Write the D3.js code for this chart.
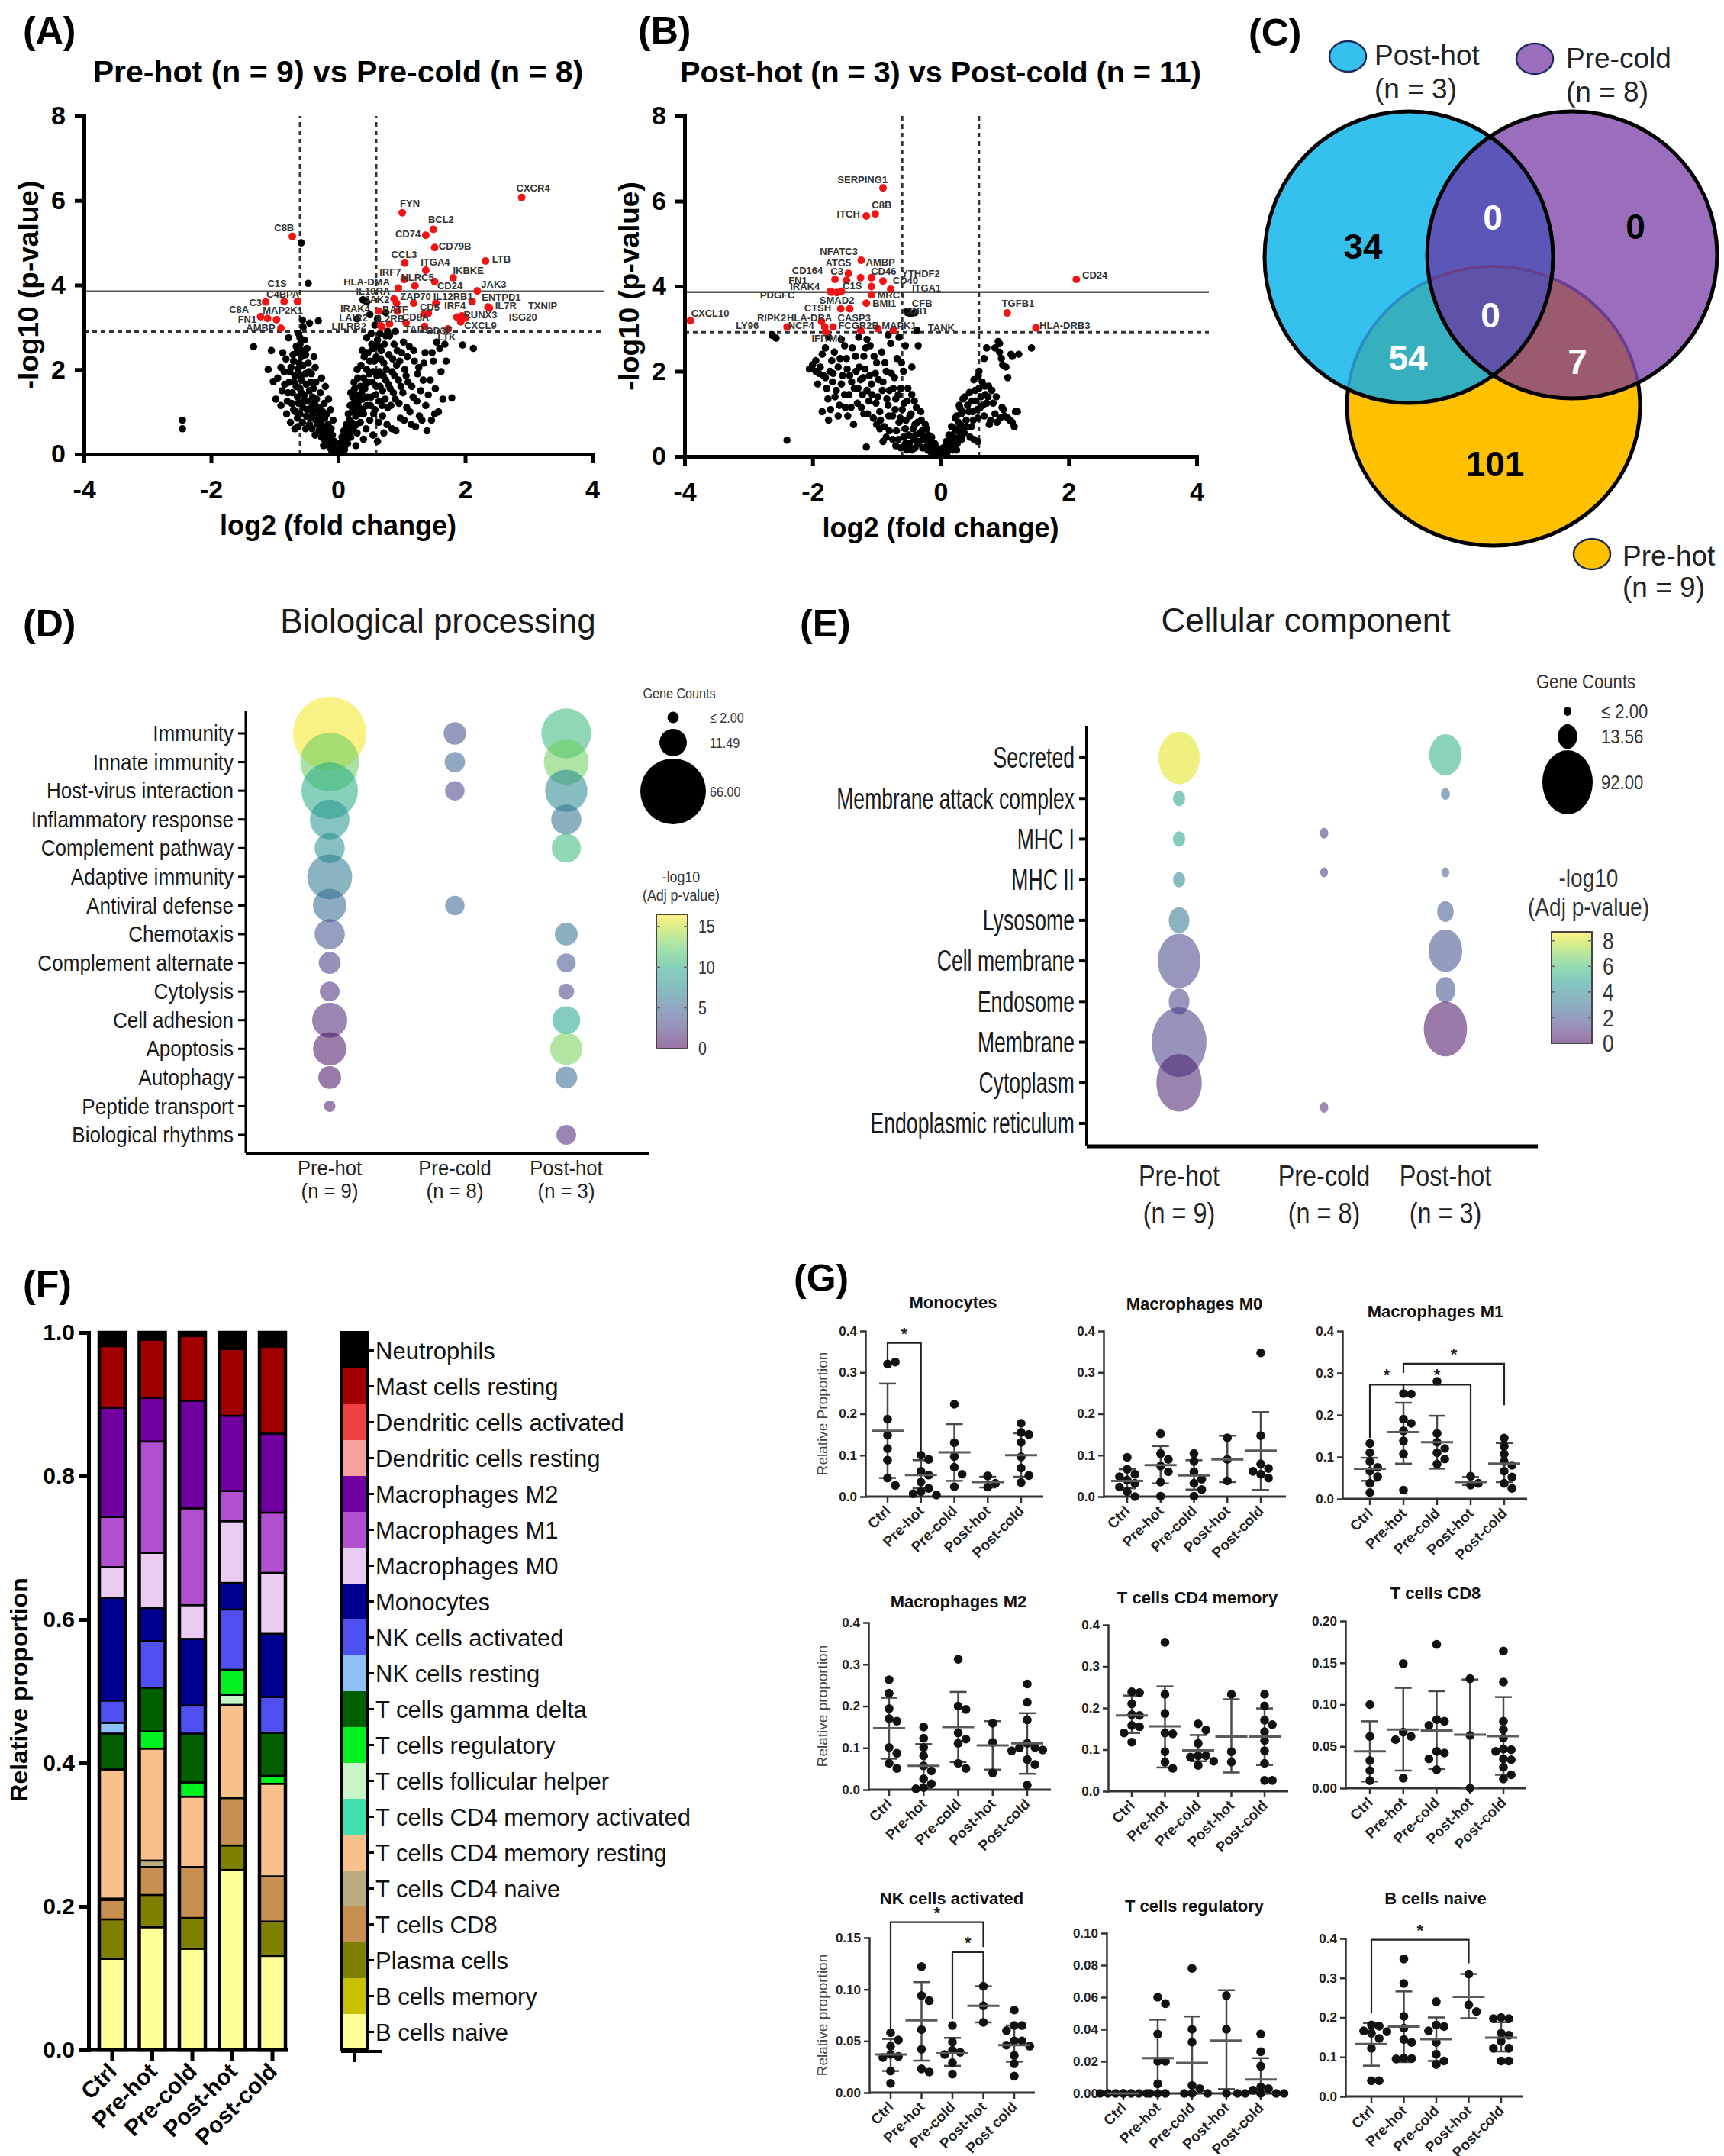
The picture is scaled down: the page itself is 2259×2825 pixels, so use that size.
<!DOCTYPE html>
<html><head><meta charset="utf-8">
<script src="https://cdn.jsdelivr.net/npm/d3@7/dist/d3.min.js"></script>
<style>body{margin:0;background:#fff}svg{display:block}</style>
</head><body>
<svg id="fig" width="2259" height="2825"></svg>
<script>
// ================= DATA =================
// Panel A: Pre-hot vs Pre-cold volcano (log2FC, -log10 p)
const volA_black = [[-0.02,0.05],[-0.05,0.12],[-0.08,0.2],[-0.1,0.08],[-0.12,0.3],[-0.15,0.22],[-0.17,0.4],[-0.2,0.5],[-0.22,0.35],[-0.25,0.62],[-0.27,0.75],[-0.3,0.55],[-0.3,0.9],[-0.33,1.05],[-0.35,0.8],[-0.37,1.2],[-0.4,0.95],[-0.4,1.35],[-0.42,1.1],[-0.45,1.5],[-0.45,0.7],[-0.48,1.25],[-0.5,1.65],[-0.5,0.9],[-0.52,1.9],[-0.53,1.4],[-0.55,2.1],[-0.55,1.1],[-0.57,1.75],[-0.58,2.3],[-0.6,1.55],[-0.6,2.6],[-0.62,1.2],[-0.63,2.0],[-0.64,0.85],[-0.65,2.4],[-0.66,1.6],[-0.68,1.85],[-0.7,1.05],[-0.7,2.2],[-0.72,1.45],[-0.74,2.05],[-0.75,0.75],[-0.77,1.7],[-0.78,2.75],[-0.8,1.25],[-0.82,2.25],[-0.85,1.95],[-0.88,1.5],[-0.9,2.05],[-0.95,1.8],[-0.98,1.3],[-1.02,1.72],[-1.05,2.45],[-1.1,2.0],[-0.22,1.2],[-0.18,0.95],[-0.28,1.45],[-0.35,1.7],[-0.42,1.9],[-0.47,2.15],[-0.38,2.3],[-0.31,3.15],[-0.56,3.17],[-0.55,3.0],[-0.58,5.0],[-0.47,4.04],[-1.33,2.54],[-2.45,0.8],[-2.45,0.6],[-0.9,1.15],[-0.6,0.95],[-0.51,0.6],[-0.68,0.6],[-0.45,3.1],[-0.62,2.85],
[-0.06,0.3],[-0.09,0.45],[-0.11,0.6],[-0.13,0.15],[-0.14,0.5],[-0.16,0.7],[-0.19,0.6],[-0.21,0.85],[-0.23,0.2],[-0.24,1.0],[-0.26,0.4],[-0.29,1.1],[-0.32,0.7],[-0.34,1.3],[-0.36,0.45],[-0.39,1.55],[-0.41,0.6],[-0.43,1.7],[-0.44,0.85],[-0.46,1.95],[-0.49,1.05],[-0.51,2.35],[-0.54,1.25],[-0.56,0.75],[-0.58,1.45],[-0.59,1.85],[-0.61,2.15],[-0.63,0.65],[-0.64,1.35],[-0.66,2.55],[-0.67,1.0],[-0.69,1.7],[-0.71,2.35],[-0.73,1.2],[-0.76,1.95],[-0.79,1.45],[-0.81,0.95],[-0.84,1.65],[-0.87,2.4],[-0.6,2.75],[-0.57,2.45],[-0.53,2.7],[-0.49,2.5],[-0.36,2.05],[-0.26,1.8],[-0.2,1.6],[-0.15,1.3],[-0.12,1.05],[-0.08,0.8],
[0.02,0.05],[0.05,0.15],[0.08,0.3],[0.1,0.1],[0.12,0.45],[0.15,0.25],[0.15,0.6],[0.18,0.8],[0.2,0.4],[0.22,1.0],[0.25,0.65],[0.25,1.2],[0.28,0.9],[0.3,1.4],[0.3,0.5],[0.33,1.1],[0.35,1.6],[0.35,0.75],[0.38,1.3],[0.4,1.8],[0.4,0.95],[0.42,1.55],[0.45,2.0],[0.45,1.15],[0.48,1.7],[0.5,2.2],[0.5,0.8],[0.52,1.35],[0.55,1.95],[0.55,2.5],[0.58,1.05],[0.6,1.6],[0.6,2.3],[0.62,2.7],[0.65,1.25],[0.65,1.95],[0.68,2.45],[0.7,0.9],[0.7,1.5],[0.72,2.15],[0.75,1.75],[0.75,2.8],[0.78,1.1],[0.8,2.35],[0.82,1.55],[0.85,1.95],[0.85,0.6],[0.88,2.6],[0.9,1.3],[0.92,2.1],[0.95,1.75],[0.98,0.85],[1.0,2.4],[1.02,1.45],[1.05,2.0],[1.08,1.1],[1.1,1.7],[1.12,2.55],[1.15,0.7],[1.18,1.35],[1.2,2.2],[1.25,1.9],[1.28,0.9],[1.3,1.5],[1.35,2.15],[1.38,1.15],[1.4,0.55],[1.45,1.75],[1.5,2.2],[1.52,0.95],[1.55,2.65],[1.6,2.5],[1.65,1.3],[1.79,1.33],[1.96,2.58],[2.13,2.5],[1.7,2.2],[0.3,2.0],[0.25,1.7],[0.2,1.45],[0.38,2.45],[0.45,2.75],[0.52,2.85],[0.28,0.2],[0.4,0.35],[0.55,0.45],[0.62,0.3],[0.72,0.5],[0.39,3.65],[0.3,3.2],[0.5,3.3],[0.45,3.6],[0.62,3.2],[0.75,3.35],
[0.03,0.25],[0.06,0.4],[0.09,0.55],[0.11,0.2],[0.13,0.7],[0.14,0.35],[0.16,0.95],[0.17,0.5],[0.19,1.15],[0.21,0.75],[0.23,1.35],[0.24,0.55],[0.26,1.55],[0.27,1.05],[0.29,0.7],[0.31,1.8],[0.32,1.25],[0.34,0.95],[0.36,2.1],[0.37,1.45],[0.39,1.05],[0.41,2.3],[0.43,1.65],[0.44,0.6],[0.46,1.35],[0.47,2.4],[0.49,1.9],[0.51,1.15],[0.53,2.6],[0.54,1.7],[0.56,0.95],[0.57,2.2],[0.59,1.4],[0.61,1.85],[0.63,2.55],[0.64,0.75],[0.66,1.6],[0.67,2.25],[0.69,1.15],[0.71,1.85],[0.73,2.6],[0.74,1.3],[0.76,2.0],[0.77,0.7],[0.79,1.65],[0.81,2.8],[0.83,1.15],[0.86,2.25],[0.87,1.45],[0.89,1.85],[0.91,0.55],[0.93,2.45],[0.96,1.2],[0.97,2.2],[0.99,1.6],[1.03,2.65],[1.04,0.8],[1.07,1.85],[1.09,2.3],[1.13,1.0],[1.16,1.6],[1.19,2.45],[1.22,0.65],[1.24,1.25],[1.27,2.05],[1.32,0.8],[1.34,1.75],[1.37,2.4],[1.42,1.4],[1.47,0.8],[1.48,2.4],[1.53,1.55],[1.58,1.0],[1.62,1.95],[1.68,2.6],[0.78,2.9],[0.66,2.85],[0.58,3.05],[0.9,2.9]];
// significant genes: gene, log2FC, -log10p, label x, label y (data units), colour flag
const volA_genes = [
 ["CXCR4",2.89,6.07,3.07,6.29,"r"],["FYN",1.01,5.71,1.13,5.93,"r"],["BCL2",1.50,5.32,1.62,5.56,"r"],["CD74",1.38,5.18,1.10,5.21,"r"],
 ["CD79B",1.52,4.89,1.84,4.92,"r"],["LTB",2.32,4.57,2.57,4.61,"r"],["CCL3",1.05,4.52,1.04,4.73,"r"],["ITGA4",1.38,4.35,1.53,4.54,"r"],
 ["IKBKE",1.81,4.17,2.05,4.35,"r"],["IRF7",1.04,4.13,0.82,4.30,"r"],["NLRC5",1.21,3.98,1.25,4.18,"r"],["HLA-DMA",0.95,3.93,0.45,4.08,"r"],
 ["CD24",1.52,4.08,1.76,3.98,"r"],["JAK3",2.19,3.86,2.45,4.02,"r"],["IL10RA",0.88,3.67,0.55,3.85,"r"],["ZAP70",1.19,3.57,1.22,3.73,"r"],
 ["IL12RB1",1.54,3.57,1.81,3.73,"r"],["ENTPD1",2.11,3.61,2.57,3.71,"r"],["JAK2",0.92,3.57,0.61,3.65,"r"],["IL7R",2.36,3.48,2.64,3.52,"r"],
 ["TXNIP",2.38,3.46,3.22,3.52,"r"],["CD5",1.42,3.33,1.44,3.47,"r"],["IRF4",1.87,3.24,1.84,3.52,"r"],["RUNX3",1.95,3.27,2.24,3.30,"r"],
 ["ISG20",2.0,3.22,2.91,3.25,"r"],["CXCL9",1.93,3.13,2.24,3.04,"r"],["LTK",1.73,2.96,1.71,2.77,"r"],["CD3E",1.36,3.02,1.59,2.92,"r"],
 ["TAP1",1.07,3.10,1.24,2.96,"r"],["CD8A",1.35,3.31,1.22,3.25,"r"],["IL2RB",0.81,3.08,0.82,3.21,"r"],["BATF",0.93,3.38,0.90,3.42,"r"],
 ["IRAK4",0.64,3.38,0.27,3.44,"r"],["LAIR2",0.67,3.04,0.24,3.23,"r"],["LILRB2",0.69,3.0,0.17,3.02,"r"],
 ["C8B",-0.72,5.15,-0.85,5.35,"r"],["C1S",-0.64,3.61,-0.96,4.04,"r"],["C4BPA",-0.85,3.61,-0.87,3.79,"r"],["C3",-1.14,3.60,-1.30,3.58,"r"],
 ["C8A",-1.22,3.25,-1.56,3.42,"r"],["MAP2K1",-0.97,3.18,-0.87,3.40,"r"],["FN1",-1.11,3.21,-1.43,3.19,"r"],["AMBP",-0.90,2.98,-1.22,2.98,"r"]];

// Panel B: Post-hot vs Post-cold volcano
const volB_black = [[-2.63,2.85],[-2.57,2.78],[-2.4,0.38],[-1.16,0.22],[-2.0,2.15],[-1.95,2.0],[-1.9,1.95],[-1.85,2.4],[-1.8,1.85],[-1.78,1.6],[-1.75,0.85],[-1.72,1.1],[-1.7,2.25],[-1.68,1.95],[-1.65,1.4],[-1.6,2.1],[-1.58,1.2],[-1.55,1.7],[-1.5,2.6],[-1.5,1.45],[-1.47,2.3],[-1.45,0.95],[-1.42,1.9],[-1.4,1.15],[-1.38,2.55],[-1.35,1.6],[-1.32,2.0],[-1.3,1.25],[-1.28,2.8],[-1.25,1.8],[-1.22,1.45],[-1.2,2.35],[-1.2,1.0],[-1.18,2.05],[-1.15,1.55],[-1.12,1.3],[-1.1,2.6],[-1.08,1.7],[-1.05,0.9],[-1.02,1.95],[-1.0,2.2],[-0.98,1.4],[-0.95,1.05],[-0.92,2.45],[-0.9,1.75],[-0.88,0.7],[-0.85,2.0],[-0.82,1.2],[-0.8,1.55],[-0.78,2.65],[-0.75,0.95],[-0.72,1.85],[-0.7,1.35],[-0.68,2.3],[-0.65,0.8],[-0.62,1.6],[-0.6,1.1],[-0.58,2.0],[-0.55,0.65],[-0.52,1.3],[-0.5,0.5],[-0.48,0.95],[-0.45,1.45],[-0.42,0.4],[-0.4,0.75],[-0.38,1.15],[-0.35,0.3],[-0.32,0.55],[-0.3,0.85],[-0.28,0.2],[-0.25,0.45],[-0.22,0.65],[-0.2,0.15],[-0.18,0.35],[-0.15,0.1],[-0.12,0.25],[-0.1,0.05],[-0.07,0.15],[-0.05,0.08],[-0.03,0.02],[-0.35,2.6],[-0.45,2.1],[-0.55,2.6],[-0.65,2.8],[-0.82,2.85],[-0.37,2.96],[-0.47,3.35],[-0.52,3.38],[-0.55,0.3],[-0.75,0.4],[-0.62,0.2],[-0.45,0.15],[-0.9,0.35],
[-1.95,2.25],[-1.92,1.7],[-1.88,2.1],[-1.83,1.9],[-1.8,2.55],[-1.76,1.35],[-1.73,2.0],[-1.69,1.75],[-1.66,2.45],[-1.63,1.55],[-1.6,0.95],[-1.57,2.3],[-1.53,1.9],[-1.49,1.15],[-1.46,2.05],[-1.43,1.45],[-1.39,1.75],[-1.36,0.75],[-1.33,2.35],[-1.29,1.6],[-1.27,2.1],[-1.24,1.15],[-1.21,1.85],[-1.17,2.55],[-1.14,1.0],[-1.11,1.9],[-1.07,1.45],[-1.04,2.35],[-1.01,1.25],[-0.97,1.8],[-0.94,0.85],[-0.91,1.55],[-0.87,2.2],[-0.84,1.35],[-0.81,0.95],[-0.77,1.95],[-0.74,1.6],[-0.71,1.1],[-0.69,0.6],[-0.66,1.45],[-0.63,0.9],[-0.61,2.2],[-0.57,1.25],[-0.54,0.85],[-0.51,1.6],[-0.49,0.3],[-0.46,1.0],[-0.43,0.65],[-0.41,1.3],[-0.39,0.5],[-0.36,0.8],[-0.33,0.35],[-0.31,1.05],[-0.29,0.6],[-0.27,0.4],[-0.24,0.75],[-0.21,0.25],[-0.19,0.5],[-0.17,0.3],[-0.14,0.45],[-0.11,0.15],[-0.09,0.3],[-0.06,0.2],[-0.04,0.1],[-0.58,0.45],[-0.7,0.25],[-0.8,0.6],[-0.95,0.65],[-1.0,0.75],[-0.85,0.45],[-0.66,0.4],[-0.53,0.15],[-0.4,0.2],[-2.05,2.05],[-1.75,2.8],[-1.55,2.75],[-1.15,2.75],[-1.85,1.05],
[0.02,0.05],[0.05,0.12],[0.08,0.25],[0.1,0.08],[0.12,0.35],[0.15,0.2],[0.18,0.5],[0.2,0.3],[0.22,0.65],[0.25,0.15],[0.28,0.8],[0.3,0.45],[0.32,1.0],[0.35,0.6],[0.35,1.35],[0.4,0.85],[0.42,1.2],[0.45,1.5],[0.48,0.7],[0.5,1.05],[0.52,1.8],[0.55,1.3],[0.58,0.9],[0.6,1.6],[0.6,2.0],[0.62,1.15],[0.65,1.75],[0.68,0.95],[0.7,1.45],[0.72,1.25],[0.75,1.65],[0.78,0.85],[0.8,1.55],[0.85,1.0],[0.88,0.8],[0.9,2.7],[0.92,2.65],[0.95,2.3],[0.98,1.1],[1.0,0.95],[1.02,2.1],[1.05,1.85],[1.08,0.85],[1.1,2.4],[1.12,2.35],[1.15,0.7],[1.2,1.05],[1.22,2.4],[1.42,2.55],[0.72,2.55],[0.68,2.3],[0.85,2.55],[0.3,1.15],[0.25,0.95],[0.52,0.4],
[0.04,0.2],[0.07,0.1],[0.09,0.35],[0.11,0.2],[0.13,0.5],[0.16,0.35],[0.17,0.7],[0.19,0.15],[0.21,0.45],[0.23,0.9],[0.26,0.3],[0.27,0.6],[0.29,1.2],[0.31,0.75],[0.33,0.4],[0.34,1.05],[0.37,0.55],[0.38,1.4],[0.41,0.7],[0.44,1.05],[0.46,0.45],[0.49,1.3],[0.51,0.85],[0.54,1.55],[0.57,1.1],[0.59,1.9],[0.63,1.4],[0.66,1.2],[0.69,1.65],[0.74,1.4],[0.76,0.75],[0.82,1.25],[0.87,1.4],[0.93,0.9],[0.97,2.15],[1.05,0.9],[1.12,0.8],[1.17,1.05],[0.96,1.15],[0.92,2.45],[0.58,0.35]];
const volB_genes = [
 ["SERPING1",-0.90,6.31,-1.22,6.51,"r"],["C8B",-1.02,5.70,-0.92,5.91,"r"],["ITCH",-1.16,5.65,-1.44,5.69,"r"],["NFATC3",-1.24,4.61,-1.59,4.82,"r"],
 ["AMBP",-1.25,4.20,-0.94,4.57,"r"],["ATG5",-1.44,4.30,-1.60,4.55,"r"],["CD164",-1.65,4.16,-2.08,4.36,"r"],["C3",-1.47,4.14,-1.62,4.35,"r"],
 ["CD46",-1.08,4.20,-0.89,4.35,"r"],["YTHDF2",-0.90,4.12,-0.31,4.30,"r"],["CD40",-0.78,3.93,-0.55,4.14,"r"],["FN1",-1.72,3.88,-2.23,4.14,"r"],
 ["C1S",-1.55,3.88,-1.38,4.01,"r"],["IRAK4",-1.70,3.86,-2.12,3.99,"r"],["ITGA1",-1.08,3.99,-0.22,3.95,"r"],["PDGFC",-1.62,3.85,-2.55,3.80,"r"],
 ["MRC1",-1.08,3.80,-0.77,3.79,"r"],["BMI1",-1.16,3.60,-0.88,3.60,"r"],["SMAD2",-1.56,3.47,-1.62,3.66,"r"],["CTSH",-1.42,3.47,-1.92,3.48,"r"],
 ["CFB",-0.52,3.41,-0.29,3.60,"k"],["CD81",-0.40,3.38,-0.40,3.41,"k"],["CXCL10",-3.91,3.19,-3.60,3.37,"r"],["HLA-DRA",-1.86,3.17,-2.05,3.26,"r"],
 ["CASP3",-1.68,3.04,-1.35,3.26,"r"],["RIPK2",-2.40,3.04,-2.64,3.25,"r"],["LY96",-2.63,2.85,-3.02,3.08,"k"],["NCF4",-1.81,3.04,-2.18,3.07,"r"],
 ["FCGR2B",-1.25,2.96,-1.28,3.07,"r"],["MAPK1",-0.98,3.00,-0.65,3.07,"r"],["TANK",-0.74,2.96,0.01,3.02,"r"],["IFITM1",-1.79,2.92,-1.77,2.78,"r"],
 ["CD24",2.12,4.16,2.41,4.26,"r"],["TGFB1",1.04,3.37,1.21,3.60,"r"],["HLA-DRB3",1.49,3.02,1.94,3.07,"r"]];

// Panel C: Venn counts
const vennSets = ["Post-hot","Pre-cold","Pre-hot"];
const vennN = [3, 8, 9];
const vennColors = ["#35C0EE", "#9B6DBD", "#FFC000"];
const vennRegions = ["PostHot", "PreCold", "PreHot", "PostHot&PreCold", "PostHot&PreHot", "PreCold&PreHot", "All"];
const vennCounts = [34, 0, 101, 0, 54, 7, 0];

// Panel D: GO biological processing bubbles
const dTerms = ["Immunity","Innate immunity","Host-virus interaction","Inflammatory response","Complement pathway","Adaptive immunity","Antiviral defense","Chemotaxis","Complement alternate","Cytolysis","Cell adhesion ","Apoptosis","Autophagy","Peptide transport","Biological rhythms"];
const dGroups = ["Pre-hot","Pre-cold","Post-hot"];
const dGroupN = ["(n = 9)","(n = 8)","(n = 3)"];
// [term index, group index, gene count, -log10 adj p]
const dBubbles = [
 [0,0,82,16.3],[1,0,53,12.5],[2,0,49,10],[3,0,24,8.5],[4,0,14,8],[5,0,31,6.5],[6,0,17,5.5],[7,0,14,4],[8,0,7.4,2.5],[9,0,6,2],[10,0,19,1.5],[11,0,17,0.8],[12,0,8,0.5],[13,0,2,1],
 [0,1,7.7,3.5],[1,1,6.4,5],[2,1,5.8,3],[6,1,5.8,5],
 [0,2,38,11],[1,2,31,12.8],[2,2,27.5,7.5],[3,2,14,6],[4,2,13,11],[7,2,8,6],[8,2,5.5,4],[9,2,3.9,3],[10,2,12,9.5],[11,2,16,13],[12,2,7.4,5.5],[14,2,6,1.5]];
const dSizeLegend = [2.00, 11.49, 66.00];
const dColorTicks = [0,5,10,15];

// Panel E: GO cellular component bubbles
const eTerms = ["Secreted","Membrane attack complex","MHC I","MHC II","Lysosome","Cell membrane","Endosome","Membrane","Cytoplasm","Endoplasmic reticulum"];
const eBubbles = [
 [0,0,62,8.3],[1,0,5.4,5],[2,0,5.4,5],[3,0,5.4,4],[4,0,15.5,3.2],[5,0,66,1.6],[6,0,15.5,1.6],[7,0,109,1.5],[8,0,75,0.7],
 [2,1,2.6,1.2],[3,1,2.2,1.2],[9,1,2.6,1.0],
 [0,2,38,5.5],[1,2,3,2.8],[3,2,2.2,2.3],[4,2,9.8,2.3],[5,2,41,2.0],[6,2,14.6,2.0],[7,2,68,0.3]];
const eSizeLegend = [2.00, 13.56, 92.00];
const eColorTicks = [0,2,4,6,8];

// Panel F: immune cell relative proportions (bottom -> top)
const fGroups = ["Ctrl","Pre-hot","Pre-cold","Post-hot","Post-cold"];
const fCellTypes = ["B cells naive","B cells memory","Plasma cells","T cells CD8","T cells CD4 naive","T cells CD4 memory resting","T cells CD4 memory activated","T cells follicular helper","T cells regulatory","T cells gamma delta","NK cells resting","NK cells activated","Monocytes","Macrophages M0","Macrophages M1","Macrophages M2","Dendritic cells resting","Dendritic cells activated","Mast cells resting","Neutrophils"];
const fColors = ["#FFFF99","#C8C000","#808000","#C89050","#B8AC80","#F8C08A","#40E0B0","#C8F5C8","#00F020","#006000","#90C0F8","#5050F0","#000090","#EACCF2","#B050D0","#7000A0","#F8A0A0","#F04040","#A00000","#000000"];
const fProps = [
 [0.127,0,0.055,0.027,0.002,0.180,0,0,0,0.050,0.015,0.031,0.143,0.043,0.070,0.152,0,0,0.086,0.019],
 [0.171,0,0.045,0.039,0.009,0.156,0,0,0.024,0.061,0,0.065,0.046,0.077,0.155,0.061,0,0,0.081,0.010],
 [0.141,0,0.043,0.071,0,0.098,0,0,0.020,0.068,0,0.039,0.093,0.047,0.135,0.150,0,0,0.090,0.005],
 [0.251,0,0.034,0.066,0,0.130,0,0.014,0.035,0,0,0.084,0.037,0.086,0.042,0.105,0,0,0.093,0.023],
 [0.131,0,0.048,0.063,0,0.129,0,0,0.011,0.060,0,0.050,0.088,0.085,0.084,0.110,0,0,0.121,0.020]];

// Panel G: per-sample relative proportions, mean, SD (lo,hi), significance [from,to,y,leftLeg,rightLeg]
const gGroups = ["Ctrl","Pre-hot","Pre-cold","Post-hot","Post-cold"];
const gMonoPts = [[0.32,0.325,0.187,0.148,0.116,0.088,0.045,0.027],[0.10,0.09,0.061,0.052,0.035,0.02,0.012,0.007,0.004],[0.223,0.13,0.097,0.071,0.054,0.024],[0.05,0.032,0.023],[0.177,0.155,0.15,0.131,0.096,0.069,0.051,0.034]];
const gMonoMean = [0.159,0.052,0.107,0.035,0.10];
const gMonoSD = [[0.045,0.273],[0.02,0.088],[0.038,0.175],[0.022,0.048],[0.048,0.153]];
const gMonoSig = [["Ctrl","Pre-hot",0.371,0.33,0.11]];
const gM0Pts = [[0.095,0.066,0.054,0.048,0.04,0.032,0.023,0.012,0.0],[0.152,0.104,0.09,0.074,0.06,0.035,0.001],[0.104,0.085,0.06,0.042,0.032,0.017,0.001],[0.142,0.09,0.038],[0.347,0.147,0.079,0.068,0.061,0.054,0.045]];
const gM0Mean = [0.038,0.076,0.051,0.09,0.111];
const gM0SD = [[0.02,0.066],[0.032,0.122],[0.017,0.088],[0.035,0.147],[0.016,0.204]];
const gM1Pts = [[0.132,0.11,0.089,0.075,0.066,0.053,0.037,0.015],[0.251,0.25,0.19,0.18,0.162,0.138,0.107,0.021],[0.28,0.156,0.135,0.12,0.11,0.095,0.083],[0.054,0.037,0.033],[0.145,0.125,0.107,0.089,0.08,0.066,0.052,0.037,0.025]];
const gM1Mean = [0.072,0.159,0.135,0.04,0.084];
const gM1SD = [[0.043,0.098],[0.084,0.229],[0.072,0.198],[0.033,0.052],[0.04,0.133]];
const gM1Sig = [["Ctrl","Pre-hot",0.272,0.145,0.258],["Pre-hot","Post-hot",0.272,0.258,0.058],["Pre-hot","Post-cold",0.322,0.30,0.223]];
const gM2Pts = [[0.263,0.231,0.194,0.17,0.164,0.101,0.087,0.063,0.051],[0.15,0.123,0.101,0.081,0.057,0.045,0.026,0.014,0.005,0.002],[0.312,0.2,0.192,0.136,0.121,0.111,0.063,0.051],[0.159,0.113,0.04],[0.253,0.209,0.167,0.111,0.101,0.1,0.095,0.093,0.072,0.06,0.011]];
const gM2Mean = [0.147,0.057,0.15,0.106,0.111];
const gM2SD = [[0.074,0.22],[0.003,0.109],[0.066,0.234],[0.048,0.164],[0.038,0.183]];
const gCD4Pts = [[0.239,0.237,0.21,0.184,0.182,0.158,0.155,0.14,0.118],[0.358,0.233,0.187,0.14,0.138,0.095,0.07,0.055],[0.162,0.147,0.115,0.085,0.085,0.082,0.072,0.062],[0.233,0.095,0.07],[0.233,0.205,0.171,0.16,0.143,0.122,0.097,0.067,0.026,0.026]];
const gCD4Mean = [0.182,0.156,0.098,0.131,0.131];
const gCD4SD = [[0.14,0.23],[0.057,0.252],[0.072,0.135],[0.045,0.221],[0.063,0.199]];
const gCD8Pts = [[0.1,0.062,0.033,0.021,0.009],[0.149,0.067,0.062,0.058,0.012],[0.172,0.082,0.08,0.075,0.044,0.042,0.035,0.022],[0.131,0.063,0.0],[0.164,0.127,0.08,0.07,0.06,0.047,0.046,0.044,0.035,0.034,0.025,0.016,0.011]];
const gCD8Mean = [0.044,0.07,0.069,0.064,0.062];
const gCD8SD = [[0.008,0.08],[0.021,0.12],[0.023,0.116],[0.0,0.13],[0.016,0.109]];
const gNKPts = [[0.058,0.051,0.045,0.037,0.035,0.034,0.021,0.009],[0.122,0.094,0.089,0.061,0.042,0.023,0.02],[0.065,0.049,0.041,0.039,0.037,0.029,0.018],[0.103,0.084,0.068],[0.08,0.065,0.065,0.06,0.05,0.05,0.046,0.045,0.036,0.028,0.016]];
const gNKMean = [0.037,0.07,0.038,0.084,0.046];
const gNKSD = [[0.021,0.052],[0.031,0.107],[0.026,0.053],[0.068,0.103],[0.03,0.065]];
const gNKSig = [["Ctrl","Post-hot",0.165,0.062,0.141],["Pre-cold","Post-hot",0.136,0.071,0.107]];
const gTregPts = [[0,0,0,0,0,0,0,0],[0.06,0.056,0.037,0.02,0.02,0.006,0,0,0],[0.078,0.04,0.032,0.005,0.003,0,0,0],[0.061,0.04,0],[0.037,0.026,0.017,0.004,0.003,0.002,0,0,0,0,0]];
const gTregMean = [0,0.022,0.019,0.033,0.0087];
const gTregSD = [[0,0],[0,0.046],[0,0.048],[0.0027,0.0644],[0,0.022]];
const gBPts = [[0.181,0.178,0.166,0.164,0.16,0.147,0.122,0.04,0.04],[0.348,0.286,0.203,0.173,0.144,0.137,0.097,0.096,0.095],[0.24,0.181,0.177,0.166,0.137,0.107,0.09,0.081],[0.31,0.232,0.215],[0.2,0.197,0.197,0.16,0.155,0.14,0.122,0.122,0.09,0.09]];
const gBMean = [0.133,0.177,0.145,0.252,0.149];
const gBSD = [[0.078,0.186],[0.087,0.266],[0.09,0.2],[0.198,0.31],[0.114,0.188]];
const gBSig = [["Ctrl","Post-hot",0.397,0.21,0.337]];

// ================= DRAWING =================
const svg = d3.select("#fig");
svg.append("rect").attr("width",2259).attr("height",2825).attr("fill","#fff");
svg.append("defs");
const FONT = "'Liberation Sans', Arial, Helvetica, sans-serif";
function T(p, x, y, s, o = {}) {
  let tr = `translate(${x},${y})`;
  if (o.rot) tr += ` rotate(${o.rot})`;
  if (o.sx) tr += ` scale(${o.sx},1)`;
  const t = p.append("text").attr("transform", tr)
    .attr("text-anchor", o.anchor || "start")
    .attr("font-family", FONT).attr("font-size", o.size || 20)
    .attr("font-weight", o.bold ? "bold" : "normal")
    .attr("fill", o.fill || "#000").text(s);
  if (o.mid) t.attr("dominant-baseline", "central");
  return t;
}
function styleAxis(g, o) {
  g.attr("font-family", FONT);
  g.select(".domain").attr("stroke", o.color || "#000").attr("stroke-width", o.lw).attr("stroke-linecap","square");
  g.selectAll(".tick line").attr("stroke", o.color || "#000").attr("stroke-width", o.tw || o.lw);
  g.selectAll(".tick text").attr("font-size", o.size).attr("font-weight", o.bold ? "bold" : "normal").attr("fill", o.tcolor || "#000");
}

// ---------- Panel labels ----------
[["(A)",30,57],["(B)",836,57],["(C)",1636,60],["(D)",30,834],["(E)",1048,834],["(F)",30,1700],["(G)",1040,1692]]
  .forEach(([s,x,y]) => T(svg, x, y, s, {size:50, bold:true}));

// ---------- Volcano ----------
function volcano(c) {
  const g = svg.append("g");
  const x = d3.scaleLinear().domain([-4,4]).range([c.x0, c.x1]);
  const y = d3.scaleLinear().domain([0,8]).range([c.y0, c.y1]);
  g.append("line").attr("x1",x(-4)).attr("x2",x(4)+16).attr("y1",y(c.hSolid)).attr("y2",y(c.hSolid)).attr("stroke","#555").attr("stroke-width",2.5);
  g.append("line").attr("x1",x(-4)).attr("x2",x(4)+16).attr("y1",y(c.hDot)).attr("y2",y(c.hDot)).attr("stroke","#333").attr("stroke-width",3).attr("stroke-dasharray","6,5");
  [-0.6,0.6].forEach(v => g.append("line").attr("x1",x(v)).attr("x2",x(v)).attr("y1",y(0)).attr("y2",y(8)).attr("stroke","#333").attr("stroke-width",3).attr("stroke-dasharray","6,5"));
  g.selectAll("circle.k").data(c.black).join("circle").attr("cx",d=>x(d[0])).attr("cy",d=>y(d[1])).attr("r",4.8).attr("fill","#000");
  g.selectAll("circle.s").data(c.genes).join("circle").attr("cx",d=>x(d[1])).attr("cy",d=>y(d[2])).attr("r",5).attr("fill",d=>d[5]==="r"?"#F21414":"#000");
  c.genes.forEach(d => T(g, x(d[3]), y(d[4]), d[0], {size:13, bold:true, anchor:"middle", fill:"#333", mid:true}));
  const ax = g.append("g").attr("transform",`translate(0,${c.y0})`)
    .call(d3.axisBottom(x).tickValues([-4,-2,0,2,4]).tickFormat(d=>String(d)).tickSize(12).tickSizeOuter(0).tickPadding(22));
  styleAxis(ax, {lw:5, size:34, bold:true});
  const ay = g.append("g").attr("transform",`translate(${c.x0},0)`)
    .call(d3.axisLeft(y).tickValues([0,2,4,6,8]).tickFormat(d=>String(d)).tickSize(12).tickSizeOuter(0).tickPadding(12));
  styleAxis(ay, {lw:5, size:34, bold:true});
  T(g, (c.x0+c.x1)/2, c.titleY, c.title, {size:c.titleSize, bold:true, anchor:"middle"});
  T(g, (c.x0+c.x1)/2, c.y0+106, "log2 (fold change)", {size:36, bold:true, anchor:"middle"});
  T(g, c.x0-60, (c.y0+c.y1)/2, "-log10 (p-value)", {size:37, bold:true, anchor:"middle", rot:-90});
}
volcano({x0:110, x1:776, y0:595, y1:152, hSolid:3.85, hDot:2.9, black:volA_black, genes:volA_genes, title:"Pre-hot (n = 9) vs Pre-cold (n = 8)", titleY:108, titleSize:41});
volcano({x0:897, x1:1568, y0:598, y1:152, hSolid:3.86, hDot:2.92, black:volB_black, genes:volB_genes, title:"Post-hot (n = 3) vs Post-cold (n = 11)", titleY:108, titleSize:39.5});

// ---------- Venn ----------
(function(){
  const g = svg.append("g");
  const E = [{cx:1846,cy:337,rx:189,ry:191},{cx:2060,cy:334,rx:190,ry:188},{cx:1957,cy:532,rx:192,ry:183}];
  const defs = svg.select("defs");
  E.forEach((e,i) => defs.append("clipPath").attr("id","vc"+i).append("ellipse").attr("cx",e.cx).attr("cy",e.cy).attr("rx",e.rx).attr("ry",e.ry));
  const m = defs.append("mask").attr("id","vout");
  m.append("rect").attr("width",2259).attr("height",2825).attr("fill","#fff");
  [0,1].forEach(i => m.append("ellipse").attr("cx",E[i].cx).attr("cy",E[i].cy).attr("rx",E[i].rx).attr("ry",E[i].ry).attr("fill","#000"));
  const ell = (p, e, fill) => p.append("ellipse").attr("cx",e.cx).attr("cy",e.cy).attr("rx",e.rx).attr("ry",e.ry).attr("fill",fill);
  ell(g, E[2], vennColors[2]); ell(g, E[0], vennColors[0]); ell(g, E[1], vennColors[1]);
  ell(g.append("g").attr("clip-path","url(#vc0)"), E[2], "#36AFBE");
  ell(g.append("g").attr("clip-path","url(#vc1)"), E[2], "#9C5A71");
  ell(g.append("g").attr("clip-path","url(#vc0)"), E[1], "#5C56B8");
  ell(g.append("g").attr("clip-path","url(#vc0)").append("g").attr("clip-path","url(#vc1)"), E[2], "#5F53A9");
  ell(g.append("g").attr("clip-path","url(#vc0)"), E[2], "none").attr("stroke","#2A8EC4").attr("stroke-width",4);
  ell(g.append("g").attr("clip-path","url(#vc1)"), E[2], "none").attr("stroke","#6A3D8E").attr("stroke-width",4);
  ell(g.append("g").attr("mask","url(#vout)"), E[2], "none").attr("stroke","#000").attr("stroke-width",5);
  ell(g, E[0], "none").attr("stroke","#000").attr("stroke-width",5);
  ell(g, E[1], "none").attr("stroke","#000").attr("stroke-width",5);
  const pos = [[1786,339,"#000"],[2143,313,"#000"],[1959,624,"#000"],[1956,301,"#fff"],[1845,485,"#fff"],[2067,490,"#fff"],[1953,429,"#fff"]];
  vennCounts.forEach((v,i) => T(g, pos[i][0], pos[i][1], String(v), {size:46, bold:true, anchor:"middle", fill:pos[i][2]}));
  const leg = [[1766,74,1801,85,129],[2011,77,2052,89,133],[2086,726,2126,741,782]];
  vennSets.forEach((s,i) => {
    g.append("ellipse").attr("cx",leg[i][0]).attr("cy",leg[i][1]).attr("rx",24).attr("ry",20).attr("fill",vennColors[i]).attr("stroke","#1d2b5c").attr("stroke-width",2.5);
    T(g, leg[i][2], leg[i][3], s, {size:37, fill:"#222"});
    T(g, leg[i][2], leg[i][4], `(n = ${vennN[i]})`, {size:37, fill:"#222"});
  });
})();

// ---------- Bubble charts ----------
function bubble(c) {
  const g = svg.append("g");
  const yRow = d3.scalePoint().domain(d3.range(c.terms.length)).range(c.rowRange);
  const yAlt = d3.scalePoint().domain(d3.range(c.terms.length)).range(c.altRange);
  const xCol = d3.scaleOrdinal().domain([0,1,2]).range(c.cols);
  const size = d3.scaleSqrt().domain([0, c.sizeRef]).range([0, c.rRef]);
  const col = v => d3.interpolateViridis(Math.min(1, v / c.cmax));
  g.selectAll("ellipse.b").data(c.bubbles).join("ellipse")
    .attr("cx", d => xCol(d[1])).attr("cy", d => d[1]===0 ? yRow(d[0]) : yAlt(d[0]))
    .attr("rx", d => size(d[2])).attr("ry", d => size(d[2]) * c.ar)
    .attr("fill", d => col(d[3])).attr("fill-opacity", 0.55);
  g.append("line").attr("x1",c.ax).attr("x2",c.ax).attr("y1",c.axTop).attr("y2",c.axY).attr("stroke","#000").attr("stroke-width",c.lw);
  g.append("line").attr("x1",c.ax).attr("x2",c.axRight).attr("y1",c.axY).attr("y2",c.axY).attr("stroke","#000").attr("stroke-width",c.lw+1);
  c.terms.forEach((t,i) => {
    g.append("line").attr("x1",c.ax-10).attr("x2",c.ax).attr("y1",yRow(i)).attr("y2",yRow(i)).attr("stroke","#000").attr("stroke-width",c.lw);
    T(g, c.ax-16, yRow(i) + c.lblSize*0.35, t, {size:c.lblSize, sx:c.lblSx, anchor:"end", fill:"#1a1a1a"});
  });
  dGroups.forEach((gname,i) => {
    T(g, c.cols[i], c.xl1, gname, {size:c.xlSize, sx:c.xlSx, anchor:"middle", fill:"#222"});
    T(g, c.cols[i], c.xl2, dGroupN[i], {size:c.xlSize, sx:c.xlSx, anchor:"middle", fill:"#222"});
  });
  T(g, c.titleX, c.titleY, c.title, {size:44, anchor:"middle", fill:"#1a1a1a"});
  T(g, c.legX + c.gcDx, c.gcY, "Gene Counts", {size:c.legSize, sx:0.85, anchor:"middle", fill:"#333"});
  c.sizeLeg.forEach((v,i) => {
    g.append("ellipse").attr("cx",c.legX).attr("cy",c.legYs[i]).attr("rx",size(v)).attr("ry",size(v)*c.ar).attr("fill","#000");
    T(g, c.legLblX, c.legYs[i] + c.legSize*0.35, (i===0?"\u2264 ":"") + v.toFixed(2), {size:c.legSize, sx:0.85, fill:"#333"});
  });
  const gid = "grad" + c.id;
  const lg = svg.select("defs").append("linearGradient").attr("id",gid).attr("x1",0).attr("x2",0).attr("y1",1).attr("y2",0);
  d3.range(0,1.0001,0.1).forEach(t => lg.append("stop").attr("offset",t).attr("stop-color",d3.interpolateViridis(t)));
  const cy = d3.scaleLinear().domain([0, c.cmax]).range([c.cbBottom, c.cbTop]);
  g.append("rect").attr("x",c.cbX).attr("y",cy(c.cmax)).attr("width",c.cbW).attr("height",cy(0)-cy(c.cmax)).attr("fill","#fff");
  g.append("rect").attr("x",c.cbX).attr("y",cy(c.cmax)).attr("width",c.cbW).attr("height",cy(0)-cy(c.cmax)).attr("fill",`url(#${gid})`).attr("fill-opacity",0.55).attr("stroke","#444").attr("stroke-width",2);
  c.cticks.forEach(v => {
    g.append("line").attr("x1",c.cbX).attr("x2",c.cbX+5).attr("y1",cy(v)).attr("y2",cy(v)).attr("stroke","#666").attr("stroke-width",1.5);
    g.append("line").attr("x1",c.cbX+c.cbW-5).attr("x2",c.cbX+c.cbW).attr("y1",cy(v)).attr("y2",cy(v)).attr("stroke","#666").attr("stroke-width",1.5);
    T(g, c.cbX + c.cbW + 14, cy(v) + c.ctSize*0.36, String(v), {size:c.ctSize, sx:0.85, fill:"#333"});
  });
  T(g, c.cbX + c.cbW/2 + c.ctTitleDx, c.ctTitleY, "-log10", {size:c.ctTitleSize, sx:0.85, anchor:"middle", fill:"#333"});
  T(g, c.cbX + c.cbW/2 + c.ctTitleDx, c.ctTitleY + c.ctTitleSize*1.15, "(Adj p-value)", {size:c.ctTitleSize, sx:0.85, anchor:"middle", fill:"#333"});
}
bubble({id:"D", terms:dTerms, bubbles:dBubbles, rowRange:[961,1487], altRange:[961,1487], cols:[432,596,742],
  sizeRef:66, rRef:43, ar:1, cmax:16.5, ax:322, axTop:932, axY:1511, axRight:850, lw:3,
  lblSize:29, lblSx:0.9, xlSize:27, xlSx:0.95, xl1:1540, xl2:1570, title:"Biological processing", titleX:574, titleY:829,
  legX:882, gcDx:8, gcY:915, legSize:19, legLblX:930, legYs:[940,973,1037], sizeLeg:dSizeLegend,
  cbX:860, cbW:41, cbTop:1198, cbBottom:1374, cticks:dColorTicks, ctSize:23, ctTitleDx:12, ctTitleY:1156, ctTitleSize:21});
bubble({id:"E", terms:eTerms, bubbles:eBubbles, rowRange:[993,1472], altRange:[989,1451], cols:[1545,1735,1894],
  sizeRef:92, rRef:33, ar:1.27, cmax:8.7, ax:1424, axTop:951, axY:1502, axRight:2015, lw:4,
  lblSize:38, lblSx:0.70, xlSize:39, xlSx:0.83, xl1:1554, xl2:1603, title:"Cellular component", titleX:1711, titleY:828,
  legX:2054, gcDx:24, gcY:902, legSize:26, legLblX:2098, legYs:[932,965,1025], sizeLeg:eSizeLegend,
  cbX:2033, cbW:53, cbTop:1221, cbBottom:1367, cticks:eColorTicks, ctSize:31, ctTitleDx:22, ctTitleY:1162, ctTitleSize:33});

// ---------- Panel F stacked bars ----------
(function(){
  const g = svg.append("g");
  const x = d3.scalePoint().domain(fGroups).range([147,357]);
  const y = d3.scaleLinear().domain([0,1]).range([2686,1746]);
  const rows = fGroups.map((gr,i) => { const o = {group:gr}; fCellTypes.forEach((c,j) => o[c] = fProps[i][j]); return o; });
  const series = d3.stack().keys(fCellTypes)(rows);
  const bw = 34;
  series.forEach((s,j) => {
    g.selectAll(null).data(s.filter(d => d[1]-d[0] > 0)).join("rect")
      .attr("x", d => x(d.data.group) - bw/2).attr("width", bw)
      .attr("y", d => y(d[1])).attr("height", d => y(d[0]) - y(d[1]))
      .attr("fill", fColors[j]).attr("stroke","#000").attr("stroke-width",2.5);
  });
  rows.forEach(r => g.append("rect").attr("x",x(r.group)-bw/2).attr("width",bw).attr("y",y(1)).attr("height",y(0)-y(1)).attr("fill","none").attr("stroke","#000").attr("stroke-width",4.5));
  const ay = g.append("g").attr("transform","translate(116,0)").call(d3.axisLeft(y).ticks(5).tickFormat(d3.format(".1f")).tickSize(12).tickSizeOuter(0).tickPadding(6));
  styleAxis(ay, {lw:5, size:30, bold:true});
  g.append("line").attr("x1",116).attr("x2",378).attr("y1",2686).attr("y2",2686).attr("stroke","#000").attr("stroke-width",5);
  fGroups.forEach(gr => {
    g.append("line").attr("x1",x(gr)).attr("x2",x(gr)).attr("y1",2686).attr("y2",2701).attr("stroke","#000").attr("stroke-width",5);
    T(g, x(gr)+8, 2716, gr, {size:30, bold:true, anchor:"end", rot:-45});
  });
  T(g, 36, 2214, "Relative proportion", {size:32, bold:true, anchor:"middle", rot:-90});
  const ly = d3.scaleBand().domain(fCellTypes.slice().reverse()).range([1746,2686]);
  fCellTypes.forEach((c,j) => {
    g.append("rect").attr("x",447).attr("y",ly(c)).attr("width",34).attr("height",ly.bandwidth()).attr("fill",fColors[j]);
    g.append("line").attr("x1",481).attr("x2",490).attr("y1",ly(c)+ly.bandwidth()/2).attr("y2",ly(c)+ly.bandwidth()/2).attr("stroke","#000").attr("stroke-width",3);
    T(g, 492, ly(c)+ly.bandwidth()/2 + 11, c, {size:31, fill:"#111"});
  });
  g.append("rect").attr("x",447).attr("y",1746).attr("width",34).attr("height",940).attr("fill","none").attr("stroke","#000").attr("stroke-width",4);
  g.append("line").attr("x1",447).attr("x2",500).attr("y1",2688).attr("y2",2688).attr("stroke","#000").attr("stroke-width",4);
  g.append("line").attr("x1",464).attr("x2",464).attr("y1",2688).attr("y2",2702).attr("stroke","#000").attr("stroke-width",4);
})();

// ---------- Panel G dot plots ----------
function dotPlot(c) {
  const g = svg.append("g");
  const x = d3.scalePoint().domain(gGroups).range([c.x0, c.x1]);
  const y = d3.scaleLinear().domain([0, c.yMax]).range([c.y0, c.yT]);
  const r = 5.8, grey = "#4a4a4a";
  const ay = g.append("g").attr("transform",`translate(${c.ax},0)`)
    .call(d3.axisLeft(y).tickValues(d3.range(0, c.yMax + 1e-9, c.step)).tickFormat(d3.format(c.fmt)).tickSize(7).tickSizeOuter(0).tickPadding(4));
  styleAxis(ay, {lw:2.5, size:17, bold:true, color:"#333", tcolor:"#222"});
  g.append("line").attr("x1",c.ax).attr("x2",c.xe).attr("y1",c.y0).attr("y2",c.y0).attr("stroke","#333").attr("stroke-width",3);
  gGroups.forEach((gr,i) => {
    g.append("line").attr("x1",x(gr)).attr("x2",x(gr)).attr("y1",c.y0).attr("y2",c.y0+8).attr("stroke","#333").attr("stroke-width",2.5);
    T(g, x(gr)+5, c.y0+20, c.labels ? c.labels[i] : gr, {size:19, bold:true, anchor:"end", rot:-45, fill:"#222"});
  });
  gGroups.forEach((gr,i) => {
    const [lo,hi] = c.sd[i], cx = x(gr);
    g.append("line").attr("x1",cx).attr("x2",cx).attr("y1",y(lo)).attr("y2",y(hi)).attr("stroke",grey).attr("stroke-width",2.5);
    [lo,hi].forEach(v => g.append("line").attr("x1",cx-11).attr("x2",cx+11).attr("y1",y(v)).attr("y2",y(v)).attr("stroke",grey).attr("stroke-width",2.5));
  });
  gGroups.forEach((gr,i) => {
    const placed = [];
    c.pts[i].forEach(v => {
      const py = y(v);
      let px = 0;
      for (const k of [0,1,-1,2,-2,3,-3]) {
        const cand = k * r * 1.75;
        if (placed.every(p => Math.hypot(p[0]-cand, p[1]-py) >= r*1.7)) { px = cand; break; }
      }
      placed.push([px, py]);
      g.append("circle").attr("cx", x(gr)+px).attr("cy", py).attr("r", r).attr("fill","#111");
    });
  });
  gGroups.forEach((gr,i) => g.append("line").attr("x1",x(gr)-21).attr("x2",x(gr)+21).attr("y1",y(c.mean[i])).attr("y2",y(c.mean[i])).attr("stroke","#5a5a5a").attr("stroke-width",3));
  (c.sig || []).forEach(s => {
    const xa = x(s[0]), xb = x(s[1]), yb = y(s[2]);
    g.append("path").attr("d",`M${xa},${y(s[3])}V${yb}H${xb}V${y(s[4])}`).attr("fill","none").attr("stroke","#222").attr("stroke-width",2.2);
    T(g, (xa+xb)/2, yb - 5, "*", {size:22, bold:true, anchor:"middle", fill:"#222"});
  });
  T(g, c.tx, c.ty, c.title, {size:22, bold:true, anchor:"middle", fill:"#111"});
  if (c.ylab) T(g, 1084, (c.y0+c.yT)/2, c.ylab, {size:19, anchor:"middle", rot:-90, fill:"#444"});
}
dotPlot({title:"Monocytes", pts:gMonoPts, mean:gMonoMean, sd:gMonoSD, sig:gMonoSig, yMax:0.4, step:0.1, fmt:".1f", ax:1134, y0:1961, yT:1744, x0:1163, x1:1338, xe:1367, tx:1249, ty:1714, ylab:"Relative Proportion"});
dotPlot({title:"Macrophages M0", pts:gM0Pts, mean:gM0Mean, sd:gM0SD, yMax:0.4, step:0.1, fmt:".1f", ax:1446, y0:1961, yT:1744, x0:1477, x1:1652, xe:1685, tx:1565, ty:1716});
dotPlot({title:"Macrophages M1", pts:gM1Pts, mean:gM1Mean, sd:gM1SD, sig:gM1Sig, yMax:0.4, step:0.1, fmt:".1f", ax:1759, y0:1964, yT:1744, x0:1795, x1:1971, xe:2001, tx:1881, ty:1726});
dotPlot({title:"Macrophages M2", pts:gM2Pts, mean:gM2Mean, sd:gM2SD, yMax:0.4, step:0.1, fmt:".1f", ax:1138, y0:2345, yT:2126, x0:1165, x1:1346, xe:1377, tx:1256, ty:2106, ylab:"Relative proportion"});
dotPlot({title:"T cells CD4 memory", pts:gCD4Pts, mean:gCD4Mean, sd:gCD4SD, yMax:0.4, step:0.1, fmt:".1f", ax:1452, y0:2347, yT:2129, x0:1483, x1:1657, xe:1688, tx:1569, ty:2101});
dotPlot({title:"T cells CD8", pts:gCD8Pts, mean:gCD8Mean, sd:gCD8SD, yMax:0.2, step:0.05, fmt:".2f", ax:1763, y0:2343, yT:2124, x0:1795, x1:1970, xe:2000, tx:1881, ty:2095});
dotPlot({title:"NK cells activated", pts:gNKPts, mean:gNKMean, sd:gNKSD, sig:gNKSig, yMax:0.15, step:0.05, fmt:".2f", ax:1139, y0:2742, yT:2539, x0:1167, x1:1329, xe:1356, tx:1247, ty:2495, ylab:"Relative proportion", labels:["Ctrl","Pre-hot","Pre-cold","Post-hot","Post cold"]});
dotPlot({title:"T cells regulatory", pts:gTregPts, mean:gTregMean, sd:gTregSD, yMax:0.1, step:0.02, fmt:".2f", ax:1450, y0:2743, yT:2533, x0:1472, x1:1652, xe:1679, tx:1565, ty:2505});
dotPlot({title:"B cells naive", pts:gBPts, mean:gBMean, sd:gBSD, sig:gBSig, yMax:0.4, step:0.1, fmt:".1f", ax:1763, y0:2747, yT:2540, x0:1797, x1:1967, xe:1995, tx:1881, ty:2495});
</script>
</body></html>
